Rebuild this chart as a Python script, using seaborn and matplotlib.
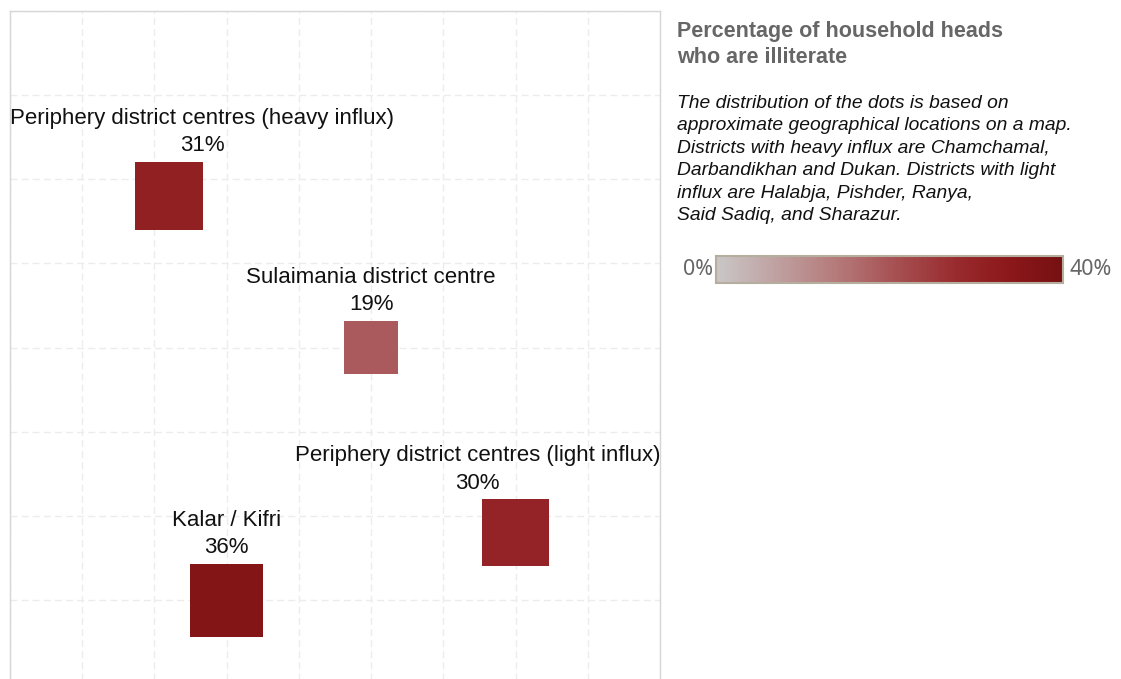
import matplotlib
matplotlib.use("Agg")
import matplotlib.pyplot as plt
import matplotlib.transforms as mtransforms
from matplotlib.colors import LinearSegmentedColormap, Normalize
from matplotlib.cm import ScalarMappable
import seaborn as sns
import pandas as pd

# --- data: approximate map positions (grid units) and illiteracy share ---
regions = ["Periphery district centres (heavy influx)", "Sulaimania district centre",
           "Periphery district centres (light influx)", "Kalar / Kifri"]
map_x = [2.2, 5.0, 7.0, 3.0]
map_y = [2.2, 4.0, 6.2, 7.0]
illiterate_pct = [31, 19, 30, 36]

title = "Percentage of household heads\nwho are illiterate"
note = ("The distribution of the dots is based on\n"
        "approximate geographical locations on a map.\n"
        "Districts with heavy influx are Chamchamal,\n"
        "Darbandikhan and Dukan. Districts with light\n"
        "influx are Halabja, Pishder, Ranya,\n"
        "Said Sadiq, and Sharazur.")

df = pd.DataFrame({"region": regions, "x": map_x, "y": map_y, "pct": illiterate_pct})

cmap = LinearSegmentedColormap.from_list(
    "illit", [(0.0, "#cac7c7"), (0.35, "#b57979"), (0.5, "#a85456"),
              (0.7, "#98292c"), (0.85, "#8b171a"), (1.0, "#761012")])

sns.set_theme(style="white")
plt.rcParams["font.family"] = ["Liberation Sans", "DejaVu Sans"]

W, H = 1121, 679
fig = plt.figure(figsize=(W / 100, H / 100), dpi=100)
ax = fig.add_axes([10 / W, 1 - 684.5 / H, 650 / W, 674 / H])

# marker area proportional to value (px^2 per % -> pt^2)
area_per_pct = 150 * (72 / 100) ** 2
sns.scatterplot(data=df, x="x", y="y", hue="pct", size="pct", palette=cmap,
                hue_norm=(0, 40), size_norm=(0, 40), sizes=(0, 40 * area_per_pct),
                marker="s", linewidth=0, legend=False, ax=ax, zorder=3)

ax.set_xlim(0, 9)
ax.set_ylim(8, 0)
ax.set_xticks(range(10))
ax.set_yticks(range(9))
ax.tick_params(length=0, labelbottom=False, labelleft=False)
ax.set_xlabel("")
ax.set_ylabel("")
ax.grid(True, color="#ececec", linestyle=(0, (5, 3)), linewidth=1)
for s in ax.spines.values():
    s.set_color("#d6d6d6")
    s.set_linewidth(1)

# labels above each square, kept inside the plot area
fig.canvas.draw()
renderer = fig.canvas.get_renderer()
ax_box = ax.get_window_extent(renderer)
labels = []
for _, r in df.iterrows():
    half = (r["pct"] * area_per_pct) ** 0.5 / 2
    off = mtransforms.ScaledTranslation(0, (half + 4) / 72, fig.dpi_scale_trans)
    t = ax.text(r["x"], r["y"], f"{r['region']}\n{r['pct']}%", ha="center", va="bottom",
                fontsize=16, color="#111111", linespacing=1.4,
                transform=ax.transData + off, zorder=4)
    labels.append((t, r, half))
fig.canvas.draw()
for t, r, half in labels:
    bb = t.get_window_extent(renderer)
    dx = 0
    if bb.x0 < ax_box.x0:
        dx = ax_box.x0 - bb.x0
    elif bb.x1 > ax_box.x1:
        dx = ax_box.x1 - bb.x1
    if dx:
        off = mtransforms.ScaledTranslation(dx / fig.dpi, (half + 4) / 72, fig.dpi_scale_trans)
        t.set_transform(ax.transData + off)

# right-hand panel
fig.text(677 / W, 1 - 21 / H, title, ha="left", va="top", fontsize=15.5,
         fontweight="bold", color="#666666", linespacing=1.3)
fig.text(677 / W, 1 - 95 / H, note, ha="left", va="top", fontsize=13.9,
         style="italic", color="#111111", linespacing=1.42)

cax = fig.add_axes([716 / W, 1 - 283 / H, 347 / W, 27 / H])
cb = fig.colorbar(ScalarMappable(norm=Normalize(0, 40), cmap=cmap), cax=cax,
                  orientation="horizontal")
cb.set_ticks([])
cb.outline.set_edgecolor("#b5ad9e")
cb.outline.set_linewidth(1.5)
fig.text(713 / W, 1 - 270 / H, "0%", ha="right", va="center", fontsize=15.5,
         color="#666666", family=["Noto Sans", "DejaVu Sans"])
fig.text(1070 / W, 1 - 270 / H, "40%", ha="left", va="center", fontsize=15.5,
         color="#666666", family=["Noto Sans", "DejaVu Sans"])

fig.savefig("out.png", dpi=100)
